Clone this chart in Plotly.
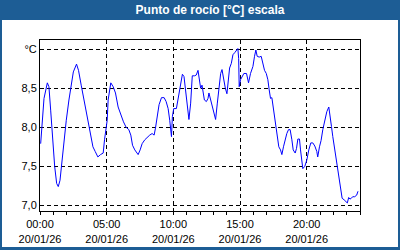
import pandas as pd
import plotly.graph_objects as go

# ---- data (hours since 20/01/26 00:00, dew point °C) ----
hours = [0.05, 0.15, 0.30, 0.55, 0.67, 0.80, 0.97, 1.10, 1.25, 1.37, 1.50, 1.65, 1.80, 1.97,
         2.17, 2.35, 2.50, 2.74, 2.89, 3.09, 3.34, 3.54, 3.72, 3.84, 3.97, 4.14, 4.34, 4.54,
         4.74, 4.84, 4.94, 5.04, 5.11, 5.31, 5.49, 5.66, 5.86, 6.06, 6.26, 6.46, 6.66, 6.81,
         6.94, 7.11, 7.36, 7.51, 7.66, 7.86, 8.06, 8.23, 8.41, 8.56, 8.66, 8.81, 8.93, 9.11,
         9.31, 9.46, 9.61, 9.73, 9.81, 9.86, 9.93, 10.03, 10.23, 10.35, 10.53, 10.68, 10.80,
         10.93, 11.05, 11.17, 11.30, 11.42, 11.60, 11.72, 11.85, 11.98, 12.05, 12.15, 12.22,
         12.33, 12.48, 12.60, 12.67, 12.78, 12.93, 13.05, 13.17, 13.30, 13.42, 13.55, 13.65,
         13.77, 13.90, 14.02, 14.10, 14.22, 14.35, 14.47, 14.62, 14.77, 14.84, 14.90, 14.94,
         15.04, 15.14, 15.29, 15.49, 15.64, 15.79, 15.97, 16.09, 16.19, 16.29, 16.44, 16.59,
         16.72, 16.84, 16.97, 17.09, 17.19, 17.29, 17.39, 17.49, 17.59, 17.69, 17.79, 17.91,
         18.04, 18.14, 18.26, 18.39, 18.51, 18.64, 18.76, 18.89, 18.99, 19.14, 19.24, 19.34,
         19.46, 19.54, 19.64, 19.71, 19.86, 20.01, 20.16, 20.31, 20.46, 20.61, 20.76, 20.83,
         20.96, 21.08, 21.21, 21.36, 21.51, 21.66, 21.76, 21.86, 21.96, 22.08, 22.21, 22.33,
         22.46, 22.55, 22.66, 22.81, 22.96, 23.05, 23.15, 23.25, 23.35, 23.45, 23.60, 23.75,
         23.85]
dew_point = [7.79, 8.03, 8.37, 8.57, 8.52, 8.22, 7.75, 7.50, 7.28, 7.24, 7.32, 7.58, 7.84, 8.09,
             8.35, 8.56, 8.71, 8.81, 8.73, 8.54, 8.31, 8.16, 7.97, 7.84, 7.75, 7.69, 7.62, 7.65,
             7.67, 7.84, 7.98, 8.09, 8.35, 8.57, 8.52, 8.44, 8.26, 8.16, 8.07, 8.00, 7.97, 7.90,
             7.77, 7.71, 7.65, 7.71, 7.79, 7.84, 7.88, 7.90, 7.92, 7.90, 7.99, 8.14, 8.29, 8.38,
             8.38, 8.33, 8.24, 8.09, 7.97, 7.88, 8.14, 8.24, 8.24, 8.35, 8.52, 8.68, 8.65,
             8.48, 8.31, 8.10, 8.31, 8.66, 8.66, 8.67, 8.73, 8.56, 8.50, 8.54, 8.48,
             8.35, 8.33, 8.37, 8.44, 8.37, 8.26, 8.18, 8.10, 8.31, 8.52, 8.69, 8.74,
             8.61, 8.50, 8.43, 8.61, 8.76, 8.82, 8.93, 8.96, 8.99, 9.01, 8.88, 8.52,
             8.61, 8.65, 8.69, 8.69, 8.57, 8.69, 8.78, 8.91, 8.99, 8.91, 8.90, 8.91,
             8.82, 8.73, 8.69, 8.61, 8.48, 8.37, 8.38, 8.26, 8.09, 7.97, 7.84, 7.75,
             7.71, 7.65, 7.75, 7.84, 7.92, 7.97, 7.97, 7.84, 7.71, 7.67, 7.73, 7.85,
             7.85, 7.71, 7.50, 7.47, 7.50, 7.58, 7.71, 7.80, 7.80, 7.76, 7.69, 7.62,
             7.75, 7.83, 7.97, 8.09, 8.20, 8.26, 8.16, 8.01, 7.88, 7.75, 7.62, 7.50,
             7.32, 7.20, 7.09, 7.07, 7.05, 7.03, 7.10, 7.08, 7.09, 7.11, 7.11, 7.13,
             7.18]
y_tickvals = [7.0, 7.5, 8.0, 8.5, 9.0]
y_ticktext = ["7,0", "7,5", "8,0", "8,5", "°C"]
x_tick_hours = [0, 5, 10, 15, 20]
title_text = "Punto de rocío [°C] escala"

base = pd.Timestamp("2026-01-20 00:00")
times = base + pd.to_timedelta(hours, unit="h")
x_ticks = base + pd.to_timedelta(x_tick_hours, unit="h")
x_ticktext = [f"{t:%H:%M}<br>{t:%d/%m/%y}" for t in x_ticks]

BLUE_FRAME = "#1d5d95"
FONT = "Liberation Sans"

fig = go.Figure()
fig.add_trace(go.Scatter(x=times, y=dew_point, mode="lines",
                         line=dict(color="#0000ff", width=1), hoverinfo="skip"))

W, H = 400, 250
L, R, T, B = 40, 40, 40, 39
pw, ph = W - L - R, H - T - B

def px_x(px):
    return (px - L) / pw

def px_y(py):
    return (H - B - py) / ph

fig.add_shape(type="rect", xref="paper", yref="paper", layer="below",
              x0=px_x(2), x1=px_x(398), y0=px_y(247), y1=px_y(20),
              fillcolor="white", line=dict(width=0))

fig.update_layout(
    width=W, height=H,
    margin=dict(l=L, r=R, t=T, b=B, autoexpand=False),
    paper_bgcolor=BLUE_FRAME,
    plot_bgcolor="white",
    showlegend=False,
    font=dict(family=FONT, size=11, color="black"),
    title=dict(text="<b>" + title_text + "</b>", x=0.525, xref="container", xanchor="center",
               y=1 - 10 / H, yref="container", yanchor="middle",
               font=dict(family=FONT, size=12, color="white")),
)
fig.update_xaxes(
    type="date", range=[base, base + pd.Timedelta(hours=24)],
    tickvals=x_ticks, ticktext=x_ticktext, automargin=False,
    showgrid=True, gridcolor="black", gridwidth=1, griddash="4px,3px",
    showline=True, linecolor="black", linewidth=1, mirror=True,
    ticks="outside", ticklen=3, tickcolor="black",
    minor=dict(ticks="outside", ticklen=3, tickcolor="black",
               dtick=3600000, tick0=base, showgrid=False),
    zeroline=False, fixedrange=True,
)
fig.update_yaxes(
    range=[6.927, 9.119], automargin=False,
    tickvals=y_tickvals, ticktext=y_ticktext,
    showgrid=True, gridcolor="black", gridwidth=1, griddash="4px,3px",
    showline=True, linecolor="black", linewidth=1, mirror=True,
    ticks="", zeroline=False, fixedrange=True,
)

fig.write_html("out.html", config={"displayModeBar": False})
